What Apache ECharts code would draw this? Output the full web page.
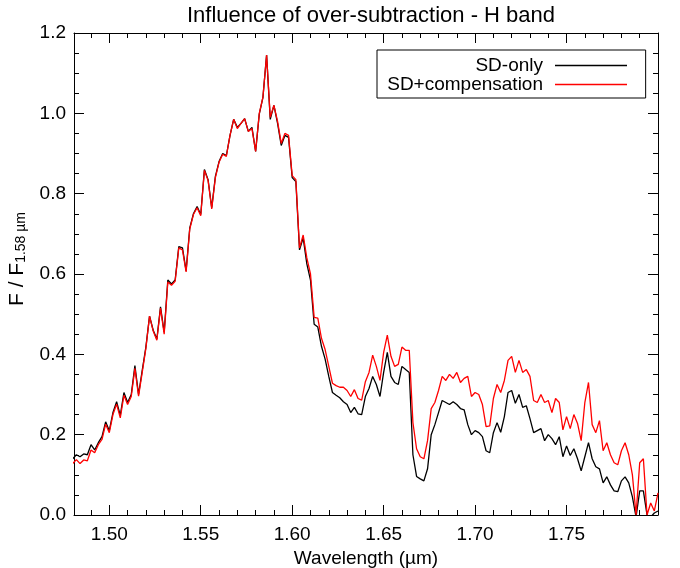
<!DOCTYPE html>
<html>
<head>
<meta charset="utf-8">
<script src="https://cdn.jsdelivr.net/npm/echarts@6/dist/echarts.min.js"></script>
<style>html,body{margin:0;padding:0;background:#fff}#c{width:680px;height:568px}</style>
</head>
<body>
<div id="c"></div>
<script>
const wavelength = [
1.480,1.482,1.484,1.486,1.488,1.490,1.492,1.494,1.496,1.498,
1.500,1.502,1.504,1.506,1.508,1.510,1.512,1.514,1.516,1.518,
1.520,1.522,1.524,1.526,1.528,1.530,1.532,1.534,1.536,1.538,
1.540,1.542,1.544,1.546,1.548,1.550,1.552,1.554,1.556,1.558,
1.560,1.562,1.564,1.566,1.568,1.570,1.572,1.574,1.576,1.578,
1.580,1.582,1.584,1.586,1.588,1.590,1.592,1.594,1.596,1.598,
1.600,1.602,1.604,1.606,1.608,1.610,1.612,1.614,1.616,1.618,
1.620,1.622,1.624,1.626,1.628,1.630,1.632,1.634,1.636,1.638,
1.640,1.642,1.644,1.646,1.648,1.650,1.652,1.654,1.656,1.658,
1.660,1.662,1.664,1.666,1.668,1.670,1.672,1.674,1.676,1.678,
1.680,1.682,1.684,1.686,1.688,1.690,1.692,1.694,1.696,1.698,
1.700,1.702,1.704,1.706,1.708,1.710,1.712,1.714,1.716,1.718,
1.720,1.722,1.724,1.726,1.728,1.730,1.732,1.734,1.736,1.738,
1.740,1.742,1.744,1.746,1.748,1.750,1.752,1.754,1.756,1.758,
1.760,1.762,1.764,1.766,1.768,1.770,1.772,1.774,1.776,1.778,
1.780,1.782,1.784,1.786,1.788,1.790,1.792,1.794,1.796,1.798,
1.800];

const sdOnly = [
0.140,0.150,0.145,0.152,0.150,0.175,0.162,0.180,0.195,0.232,
0.210,0.255,0.282,0.248,0.305,0.280,0.300,0.372,0.300,0.360,
0.418,0.495,0.460,0.438,0.518,0.455,0.585,0.575,0.585,0.668,
0.665,0.608,0.715,0.750,0.768,0.748,0.860,0.835,0.765,0.843,
0.880,0.900,0.895,0.945,0.985,0.965,0.975,0.987,0.955,0.965,
0.905,0.998,1.040,1.145,0.985,1.020,0.975,0.920,0.945,0.940,
0.840,0.830,0.660,0.690,0.625,0.585,0.475,0.468,0.420,0.388,
0.345,0.305,0.298,0.292,0.282,0.275,0.255,0.268,0.252,0.250,
0.295,0.315,0.345,0.325,0.295,0.355,0.405,0.345,0.330,0.325,
0.370,0.362,0.355,0.150,0.096,0.090,0.085,0.115,0.200,0.225,
0.255,0.285,0.280,0.275,0.282,0.275,0.265,0.262,0.225,0.200,
0.210,0.205,0.195,0.160,0.155,0.205,0.230,0.206,0.245,0.305,
0.310,0.278,0.300,0.268,0.272,0.240,0.205,0.210,0.215,0.185,
0.200,0.190,0.175,0.195,0.145,0.172,0.148,0.165,0.140,0.110,
0.145,0.180,0.140,0.120,0.115,0.080,0.095,0.075,0.060,0.058,
0.085,0.095,0.080,0.045,-0.005,0.060,0.060,0.000,-0.005,0.005,
0.010];

const sdComp = [
0.128,0.138,0.128,0.137,0.135,0.162,0.155,0.175,0.188,0.226,
0.205,0.250,0.276,0.242,0.298,0.275,0.295,0.365,0.296,0.355,
0.415,0.495,0.458,0.435,0.515,0.450,0.580,0.572,0.582,0.665,
0.660,0.605,0.712,0.748,0.765,0.745,0.858,0.833,0.762,0.840,
0.878,0.898,0.893,0.945,0.985,0.962,0.975,0.987,0.955,0.962,
0.905,1.000,1.040,1.145,0.990,1.020,0.980,0.925,0.950,0.945,
0.845,0.835,0.665,0.697,0.640,0.600,0.492,0.490,0.440,0.412,
0.370,0.328,0.322,0.318,0.318,0.310,0.295,0.312,0.290,0.286,
0.332,0.355,0.398,0.370,0.335,0.405,0.448,0.395,0.370,0.375,
0.418,0.410,0.410,0.230,0.165,0.145,0.140,0.185,0.265,0.280,
0.310,0.345,0.335,0.350,0.340,0.355,0.330,0.340,0.345,0.295,
0.305,0.300,0.275,0.220,0.222,0.290,0.325,0.305,0.335,0.385,
0.395,0.355,0.385,0.355,0.362,0.345,0.285,0.280,0.300,0.280,
0.285,0.255,0.290,0.280,0.212,0.245,0.215,0.250,0.228,0.185,
0.280,0.330,0.225,0.205,0.235,0.160,0.180,0.150,0.130,0.125,
0.160,0.180,0.150,0.100,0.000,0.130,0.140,0.000,0.030,0.010,
0.055];

const seriesNames = ['SD-only', 'SD+compensation'];
const xMajorTicks = [1.50, 1.55, 1.60, 1.65, 1.70, 1.75];
const xMinorTicks = [1.49,1.51,1.52,1.53,1.54,1.56,1.57,1.58,1.59,1.61,1.62,1.63,1.64,1.66,1.67,1.68,1.69,1.71,1.72,1.73,1.74,1.76,1.77,1.78,1.79];
const X_MIN = 1.4807, X_MAX = 1.800;

const FONT = 'Liberation Sans, Arial, Helvetica, sans-serif';
const chart = echarts.init(document.getElementById('c'), null, {renderer: 'canvas'});

function xAxisDef(pos, ticks, len, showLine, showLabels, extra) {
  return Object.assign({
    type: 'value', gridIndex: 0, position: pos, min: X_MIN, max: X_MAX,
    axisLine: {show: showLine, lineStyle: {color: '#000', width: 1}},
    axisTick: {show: true, inside: true, length: len, customValues: ticks, lineStyle: {color: '#000', width: 1}},
    axisLabel: showLabels ? {show: true, customValues: ticks, formatter: v => v.toFixed(2), color: '#000', fontSize: 19, fontFamily: FONT, margin: 10} : {show: false},
    splitLine: {show: false}
  }, extra || {});
}
function yAxisDef(pos, showLabels, extra) {
  return Object.assign({
    type: 'value', gridIndex: 0, position: pos, min: 0, max: 1.2, interval: 0.2,
    axisLine: {show: true, lineStyle: {color: '#000', width: 1}},
    axisTick: {show: true, inside: true, length: 10, lineStyle: {color: '#000', width: 1}},
    minorTick: {show: true, splitNumber: 4, length: 5, lineStyle: {color: '#000', width: 1}},
    axisLabel: showLabels ? {show: true, formatter: v => v.toFixed(1), color: '#000', fontSize: 19, fontFamily: FONT, margin: 8} : {show: false},
    splitLine: {show: false}, minorSplitLine: {show: false}
  }, extra || {});
}

chart.setOption({
  animation: false,
  backgroundColor: '#fff',
  title: {
    text: 'Influence of over-subtraction - H band',
    left: 366, top: 0, textAlign: 'center',
    textStyle: {fontFamily: FONT, fontSize: 22, fontWeight: 'normal', color: '#000'}
  },
  grid: {left: 74, right: 22, top: 33, bottom: 53, containLabel: false, outerBoundsMode: 'none'},
  legend: {
    orient: 'vertical', left: 377, top: 50, align: 'right',
    backgroundColor: '#fff',
    borderColor: '#000', borderWidth: 1, borderRadius: 0,
    padding: [6, 18, 4, 7], itemGap: 0, itemWidth: 72, itemHeight: 14,
    itemStyle: {color: 'rgba(0,0,0,0)', borderWidth: 0, opacity: 0},
    lineStyle: {width: 1.3},
    data: seriesNames,
    formatter: n => '{r|' + n + '}',
    textStyle: {fontFamily: FONT, fontSize: 19, color: '#000',
      rich: {r: {width: 159, align: 'right', padding: [0, 7, 0, 0], fontSize: 19, lineHeight: 19, fontFamily: FONT, color: '#000'}}}
  },
  xAxis: [
    xAxisDef('bottom', xMajorTicks, 10, true, true, {
      name: 'Wavelength (µm)', nameLocation: 'middle', nameGap: 24,
      nameTextStyle: {fontFamily: FONT, fontSize: 19, color: '#000'}
    }),
    xAxisDef('bottom', xMinorTicks, 5, false, false),
    xAxisDef('top', xMajorTicks, 10, true, false),
    xAxisDef('top', xMinorTicks, 5, false, false)
  ],
  yAxis: [
    yAxisDef('left', true, {
      name: '{a|F / F}{b|1.58 µm}', nameLocation: 'middle', nameGap: 46, nameRotate: 90,
      nameTextStyle: {fontFamily: FONT, color: '#000', padding: [0, 0, 0, 30],
        rich: {a: {fontSize: 21, fontFamily: FONT, color: '#000', verticalAlign: 'bottom', lineHeight: 26},
               b: {fontSize: 14, fontFamily: FONT, color: '#000', verticalAlign: 'bottom', lineHeight: 20}}}
    }),
    yAxisDef('right', false)
  ],
  series: [
    {name: seriesNames[0], type: 'line', xAxisIndex: 0, yAxisIndex: 0, symbol: 'none', clip: true,
     color: '#000', lineStyle: {color: '#000', width: 1.3},
     data: wavelength.map((w, i) => [w, sdOnly[i]])},
    {name: seriesNames[1], type: 'line', xAxisIndex: 0, yAxisIndex: 0, symbol: 'none', clip: true,
     color: '#ff0000', lineStyle: {color: '#ff0000', width: 1.3},
     data: wavelength.map((w, i) => [w, sdComp[i]])}
  ]
});
</script>
</body>
</html>
